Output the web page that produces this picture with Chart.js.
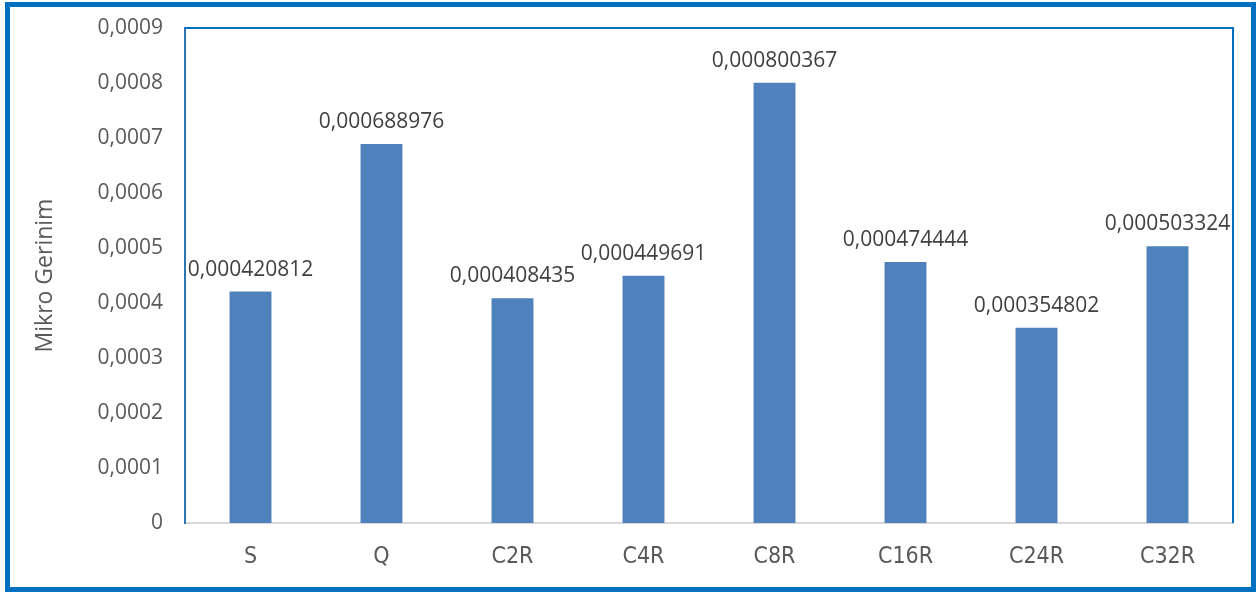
<!DOCTYPE html>
<html>
<head>
<meta charset="utf-8">
<script src="https://cdn.jsdelivr.net/npm/chart.js@4.4.1/dist/chart.umd.min.js"></script>
<style>
  html, body { margin: 0; padding: 0; background: #fff; }
  #wrap { position: relative; width: 1257px; height: 593px; overflow: hidden; }
  #frame {
    position: absolute; left: 5px; top: 2px; width: 1241px; height: 580px;
    border: 5px solid #0070C0; box-sizing: content-box;
  }
  canvas { position: absolute; left: 0; top: 0; }
</style>
</head>
<body>
<div id="wrap">
  <div id="frame"></div>
  <canvas id="c" width="1257" height="593"></canvas>
</div>
<script>
// Strain per specimen configuration
const categories = ['S', 'Q', 'C2R', 'C4R', 'C8R', 'C16R', 'C24R', 'C32R'];
const strainValues = [0.000420812, 0.000688976, 0.000408435, 0.000449691, 0.000800367, 0.000474444, 0.000354802, 0.000503324];
const yAxisTitle = 'Mikro Gerinim';
const yMax = 0.0009;
const yStep = 0.0001;

const decimalComma = (v, digits) => v.toFixed(digits).replace('.', ',');

// Value labels above every bar
const barValueLabels = {
  id: 'barValueLabels',
  afterDatasetsDraw(chart) {
    const ctx = chart.ctx;
    const meta = chart.getDatasetMeta(0);
    ctx.save();
    ctx.font = '21px "Open Sans", sans-serif';
    ctx.fillStyle = '#404040';
    ctx.textAlign = 'center';
    ctx.textBaseline = 'alphabetic';
    meta.data.forEach((bar, i) => {
      ctx.fillText(decimalComma(strainValues[i], 9), bar.x, bar.y - 16);
    });
    ctx.restore();
  }
};

// Blue outline on the top and right sides of the plot area
const plotOutline = {
  id: 'plotOutline',
  afterDraw(chart) {
    const { left, top, right, bottom } = chart.chartArea;
    const ctx = chart.ctx;
    ctx.save();
    ctx.strokeStyle = '#0070C0';
    ctx.lineWidth = 2;
    ctx.beginPath();
    ctx.moveTo(left, top);
    ctx.lineTo(right, top);
    ctx.lineTo(right, bottom);
    ctx.stroke();
    ctx.restore();
  }
};

new Chart(document.getElementById('c'), {
  type: 'bar',
  data: {
    labels: categories,
    datasets: [{
      data: strainValues,
      backgroundColor: '#4F81BD',
      borderWidth: 0,
      barPercentage: 0.32,
      categoryPercentage: 1.0
    }]
  },
  options: {
    responsive: false,
    animation: false,
    devicePixelRatio: 1,
    layout: { padding: { top: 28, right: 24, bottom: 0, left: 0 } },
    plugins: {
      legend: { display: false },
      tooltip: { enabled: false }
    },
    scales: {
      x: {
        grid: { display: false, drawTicks: false },
        border: { color: '#D9D9D9', width: 2 },
        ticks: {
          color: '#595959',
          font: { family: '"Liberation Sans Narrow", "DejaVu Sans Condensed", sans-serif', size: 23 },
          padding: 20
        },
        afterFit(scale) { scale.height = 70; }
      },
      y: {
        min: 0,
        max: yMax,
        grid: { display: false, drawTicks: false },
        border: { color: '#2E75B6', width: 2 },
        ticks: {
          stepSize: yStep,
          color: '#595959',
          font: { family: '"Open Sans", sans-serif', size: 21 },
          padding: 22,
          callback: (v) => (v === 0 ? '0' : decimalComma(v, 4))
        },
        title: {
          display: true,
          text: yAxisTitle,
          color: '#595959',
          font: { family: '"Open Sans", sans-serif', size: 23 },
          padding: { top: 32, bottom: 0 }
        },
        afterFit(scale) {
          scale.width = 185;
          scale.paddingTop = 0;
          scale.paddingBottom = 0;
        }
      }
    }
  },
  plugins: [barValueLabels, plotOutline]
});
</script>
</body>
</html>
